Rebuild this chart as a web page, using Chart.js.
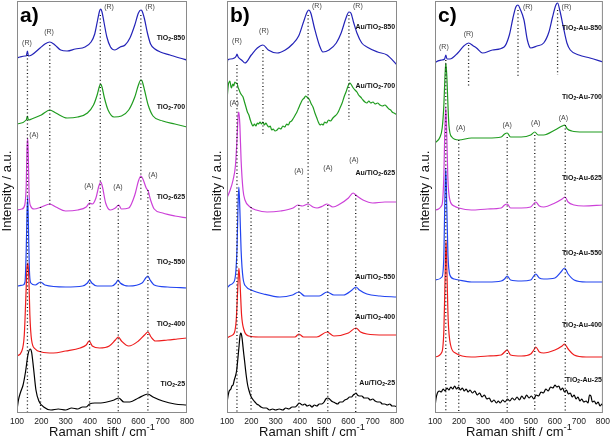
<!DOCTYPE html>
<html>
<head>
<meta charset="utf-8">
<script src="https://cdn.jsdelivr.net/npm/chart.js@4.4.1/dist/chart.umd.min.js"></script>
<style>
  body { margin: 0; background: #fff; }
  #wrap { position: relative; width: 614px; height: 440px; overflow: hidden; }
  canvas { position: absolute; top: 0; }
</style>
</head>
<body>
<div id="wrap">
  <canvas id="panelA" width="200" height="440" style="left:0px"></canvas>
  <canvas id="panelB" width="210" height="440" style="left:200px"></canvas>
  <canvas id="panelC" width="204" height="440" style="left:410px"></canvas>
</div>
<script>
// ---------------------------------------------------------------------------
// Data: [Raman shift (cm-1), stacked intensity (a.u.)]
// ---------------------------------------------------------------------------

// panel a) TiO2
const a850 = [[100,355],[112,356],[133,357],[138,357],[143,362],[147,357],[160,358],[195,365],[215,369],[235,371],[256,368],[280,363],[306,362],[340,364],[380,366],[405,371],[420,379],[432,393],[440,402],[445,404],[450,401],[458,391],[470,376],[485,366],[503,363],[525,366],[545,368],[565,375],[585,388],[600,400],[610,403],[615,402],[625,394],[637,380],[650,369],[668,364],[690,361],[730,358],[770,355],[800,353]];
const a700 = [[100,289],[138,293],[143,297],[147,293],[160,294],[200,298],[235,303],[260,300],[306,295],[350,296],[390,300],[415,308],[430,318],[440,327],[445,329],[450,326],[460,315],[475,303],[500,296],[530,297],[560,303],[585,316],[600,328],[610,333],[615,332],[625,323],[640,308],[660,297],[700,292],[750,289],[800,286]];
const a625 = [[100,203],[120,204],[132,208],[138,228],[141,263],[144,275],[147,253],[150,218],[156,207],[170,204],[200,206],[235,209],[260,206],[300,202],[350,203],[385,206],[399,210],[410,209],[425,215],[437,227],[445,231],[452,226],[465,210],[485,203],[505,205],[519,208],[530,204],[560,205],[585,218],[600,232],[610,237],[620,233],[632,225],[640,222],[650,213],[665,204],[700,200],[750,197],[800,195]];
const a550 = [[100,127],[125,128],[133,131],[138,163],[141,198],[144,216],[147,188],[151,143],[157,130],[175,128],[197,131],[215,128],[300,126],[370,127],[390,130],[399,133],[408,130],[430,127],[490,127],[508,130],[516,133],[525,130],[560,127],[615,130],[630,135],[639,137],[648,133],[665,128],[720,126],[800,125]];
const a400 = [[100,57],[118,61],[130,78],[136,113],[141,145],[145,150],[149,133],[153,98],[160,73],[175,64],[200,61],[250,60],[300,62],[360,65],[385,68],[397,72],[410,67],[440,65],[480,67],[505,73],[517,76],[530,72],[560,67],[600,72],[625,78],[639,81],[652,76],[670,72],[720,73],[760,74],[800,75]];
const a25 = [[100,3],[106,13],[115,21],[125,28],[135,41],[145,58],[154,64],[160,61],[168,45],[178,23],[190,12],[210,6],[240,3],[270,4],[300,3],[325,5],[350,4],[370,6],[385,6],[399,9],[420,10],[445,10],[470,11],[500,13],[519,15],[540,11],[565,11],[600,15],[625,18],[639,19],[660,16],[700,12],[750,9],[800,8]];

// panel b) Au/TiO2
const b850 = [[100,343],[103,353],[115,354],[130,355],[138,357],[141,359],[146,356],[160,353],[174,350],[200,358],[225,365],[248,368],[270,363],[306,360],[340,363],[370,369],[395,377],[415,391],[430,401],[437,403],[445,400],[460,385],[480,368],[495,361],[520,363],[550,370],[570,380],[590,395],[602,401],[610,400],[622,390],[635,380],[655,370],[676,366],[720,361],[759,358],[800,348]];
const b700 = [[100,313],[103,322],[106,329],[109,331],[112,332],[115,328],[118,325],[121,327],[124,329],[128,327],[132,331],[136,330],[141,330],[145,326],[150,323],[155,320],[160,318],[166,316],[172,311],[178,306],[184,301],[190,298],[196,293],[202,289],[207,287],[213,289],[219,287],[225,290],[230,289],[236,291],[242,289],[248,291],[254,288],[260,290],[265,288],[272,286],[278,287],[284,283],[290,284],[298,282],[306,283],[314,285],[322,284],[330,287],[338,286],[346,289],[352,288],[359,291],[366,292],[374,295],[381,298],[388,301],[395,305],[402,309],[410,313],[418,315],[424,317],[429,316],[434,315],[440,313],[447,309],[454,306],[462,300],[470,295],[476,291],[483,288],[490,289],[496,288],[502,291],[510,290],[518,293],[526,292],[536,295],[545,297],[553,299],[560,302],[567,306],[574,310],[582,316],[590,321],[597,326],[602,329],[606,330],[610,329],[615,327],[620,325],[627,323],[635,321],[642,318],[650,316],[660,313],[668,311],[676,310],[684,312],[692,310],[701,311],[710,309],[720,310],[730,308],[740,307],[750,308],[759,306],[767,304],[774,303],[780,301],[788,300],[795,299],[800,298]];
const b625 = [[100,215],[110,221],[125,233],[135,248],[141,273],[146,298],[149,301],[153,288],[158,253],[166,223],[174,213],[195,206],[220,203],[265,201],[320,202],[372,205],[392,208],[410,207],[434,209],[454,206],[471,205],[495,207],[512,209],[536,206],[565,209],[600,215],[619,220],[635,217],[660,213],[700,210],[750,211],[800,211]];
const b550 = [[100,125],[112,128],[125,130],[135,138],[141,163],[146,213],[149,226],[153,203],[158,163],[166,135],[180,126],[200,123],[250,119],[318,116],[370,118],[396,121],[420,117],[480,117],[512,121],[540,118],[580,118],[615,123],[631,126],[645,123],[676,119],[730,117],[800,116]];
const b400 = [[100,75],[115,77],[130,80],[138,93],[144,123],[149,145],[154,128],[160,98],[170,83],[190,77],[230,76],[300,76],[380,76],[396,79],[415,76],[470,76],[512,81],[540,77],[600,80],[631,85],[650,81],[676,79],[750,78],[800,78]];
const b25 = [[100,10],[103,15],[106,19],[109,22],[112,23],[116,24],[120,27],[125,28],[130,33],[135,37],[140,43],[145,55],[150,68],[153,76],[156,80],[159,79],[162,75],[166,66],[169,59],[172,53],[176,44],[180,36],[185,28],[190,23],[195,19],[200,16],[208,13],[215,11],[222,9],[230,8],[240,6],[250,5],[262,5],[275,3],[288,4],[300,3],[315,4],[330,3],[342,5],[355,4],[368,6],[380,6],[390,8],[397,10],[404,9],[412,8],[420,9],[430,7],[440,8],[450,6],[460,8],[470,7],[480,9],[490,9],[500,11],[507,14],[515,15],[522,14],[530,12],[538,11],[546,10],[555,9],[565,11],[575,11],[585,13],[595,14],[605,16],[613,16],[620,18],[626,19],[631,20],[637,18],[645,17],[655,17],[665,15],[680,15],[690,13],[700,14],[710,12],[720,11],[730,11],[740,9],[750,9],[760,8],[770,9],[780,7],[790,7],[800,6]];

// panel c) TiO2-Au
const c850 = [[100,350],[104,351],[129,353],[140,354],[145,358],[150,354],[162,354],[195,360],[220,367],[240,370],[260,367],[273,365],[298,360],[340,363],[388,366],[410,378],[425,395],[437,406],[446,408],[455,404],[471,393],[485,373],[499,365],[525,367],[553,370],[575,381],[590,396],[604,408],[611,410],[620,403],[635,386],[650,370],[664,363],[700,358],[746,355],[800,351]];
const c700 = [[100,270],[121,276],[130,285],[137,308],[141,333],[145,350],[149,338],[154,308],[158,288],[170,276],[199,273],[252,275],[320,275],[376,276],[390,279],[401,280],[415,276],[460,276],[499,278],[516,281],[530,278],[553,278],[600,283],[630,287],[640,288],[652,284],[670,282],[718,281],[800,281]];
const c625 = [[100,203],[129,208],[137,238],[141,283],[145,306],[149,278],[154,233],[162,213],[180,207],[199,205],[252,203],[320,204],[376,205],[390,208],[401,209],[415,205],[460,205],[499,206],[520,211],[535,207],[553,206],[600,210],[630,214],[642,216],[655,211],[680,208],[720,207],[800,208]];
const c550 = [[100,133],[129,136],[137,158],[141,213],[145,245],[149,208],[154,158],[162,138],[180,134],[199,133],[252,131],[320,131],[376,132],[390,134],[401,137],[415,133],[460,132],[499,133],[520,139],[535,135],[553,134],[600,135],[625,141],[640,145],[655,139],[680,133],[730,131],[800,131]];
const c400 = [[100,56],[129,61],[137,83],[141,123],[146,173],[150,138],[155,93],[165,68],[185,60],[252,56],[320,57],[376,58],[390,61],[401,63],[415,58],[460,57],[499,59],[512,63],[520,66],[535,61],[553,60],[600,63],[630,67],[640,69],[655,64],[680,58],[730,56],[800,56]];
const c25 = [[100,6],[104,14],[110,20],[118,22],[126,21],[134,24],[142,22],[150,25],[158,23],[166,26],[174,24],[182,27],[190,24],[198,26],[206,23],[214,25],[222,22],[230,24],[238,21],[246,23],[256,20],[266,22],[276,18],[286,20],[296,16],[306,18],[316,14],[326,15],[336,11],[346,13],[356,10],[364,12],[372,10],[382,13],[392,11],[402,14],[412,12],[422,15],[432,13],[442,16],[452,13],[462,17],[472,14],[482,18],[492,15],[502,17],[512,14],[522,18],[532,17],[542,21],[552,20],[562,24],[572,22],[582,26],[592,25],[600,28],[608,26],[616,27],[624,23],[632,25],[640,21],[648,23],[656,19],[664,20],[672,16],[680,18],[688,14],[696,16],[704,12],[712,14],[720,11],[730,12],[738,10],[744,18],[750,17],[756,11],[764,12],[772,9],[780,11],[788,7],[796,9],[800,7]];

// dotted peak markers: [shift, top, bottom]
const aMarks = [[143,358,0],[235,368,208],[443,398,203],[610,398,213],[197,206,0],[399,213,0],[517,208,0],[639,223,0]];
const bMarks = [[141,348,0],[248,363,278],[434,398,203],[602,398,293],[199,206,0],[396,208,0],[515,208,0],[630,218,0]];
const cMarks = [[145,353,0],[240,368,326],[446,403,335],[611,403,338],[199,273,0],[401,276,0],[516,278,0],[643,288,0]];

// sample names: [text, shift, intensity]  (_{..} = subscript)
const aNames = [['TiO_{2}-850',792,375],['TiO_{2}-700',792,306],['TiO_{2}-625',792,216],['TiO_{2}-550',792,151],['TiO_{2}-400',792,89],['TiO_{2}-25',792,29]];
const bNames = [['Au/TiO_{2}-850',792,386],['Au/TiO_{2}-700',792,327],['Au/TiO_{2}-625',792,240],['Au/TiO_{2}-550',792,136],['Au/TiO_{2}-400',792,96],['Au/TiO_{2}-25',792,30]];
const cNames = [['TiO_{2}-Au-850',796,385],['TiO_{2}-Au-700',796,316],['TiO_{2}-Au-625',796,235],['TiO_{2}-Au-550',796,160],['TiO_{2}-Au-400',796,88],['TiO_{2}-Au-25',796,33]];

// phase labels: [text, shift, intensity]
const aPhase = [['(R)',141,370],['(R)',232,381],['(R)',479,406],['(R)',648,406],['(A)',170,278],['(A)',396,227],['(A)',516,226],['(A)',660,238]];
const bPhase = [['(R)',141,372],['(R)',252,382],['(R)',470,407],['(R)',639,407],['(A)',129,310],['(A)',396,242],['(A)',516,245],['(A)',623,253]];
const cPhase = [['(R)',137,366],['(R)',240,379],['(R)',487,406],['(R)',648,406],['(A)',207,285],['(A)',401,288],['(A)',520,290],['(A)',635,295]];

const xTicks = [100, 200, 300, 400, 500, 600, 700, 800];

// colours per calcination temperature
const traceColors = {
    '850': '#2323b8',
    '700': '#1f9c1f',
    '625': '#cc40d8',
    '550': '#2244f0',
    '400': '#ee1c1c',
    '25': '#000000'
};

const FONT = 'Arial, "Liberation Sans", Helvetica, sans-serif';

// ---------------------------------------------------------------------------
// Text helpers
// ---------------------------------------------------------------------------
function splitRich(text) {
    const out = [];
    const re = /([_^])\{([^}]*)\}/g;
    let last = 0, m;
    while ((m = re.exec(text))) {
        if (m.index > last) out.push({ t: text.slice(last, m.index), mode: '' });
        out.push({ t: m[2], mode: m[1] });
        last = re.lastIndex;
    }
    if (last < text.length) out.push({ t: text.slice(last), mode: '' });
    return out;
}

function drawRich(ctx, text, x, y, size, weight, align) {
    const segs = splitRich(text);
    const fontFor = s => `${weight} ${s.mode ? size * 0.72 : size}px ${FONT}`;
    let total = 0;
    segs.forEach(s => {
        ctx.font = fontFor(s);
        s.w = ctx.measureText(s.t).width;
        total += s.w;
    });
    let cx = align === 'right' ? x - total : align === 'center' ? x - total / 2 : x;
    ctx.textAlign = 'left';
    ctx.textBaseline = 'middle';
    segs.forEach(s => {
        ctx.font = fontFor(s);
        const dy = s.mode === '_' ? size * 0.3 : s.mode === '^' ? -size * 0.38 : 0;
        ctx.fillText(s.t, cx, y + dy);
        cx += s.w;
    });
}

// frame, panel letter, axis titles and labels
const panelDecor = {
    id: 'panelDecor',
    afterDraw(chart, args, opts) {
        const ctx = chart.ctx;
        const area = chart.chartArea;
        const xs = chart.scales.x;
        const ys = chart.scales.y;
        ctx.save();

        ctx.strokeStyle = '#8a8a8a';
        ctx.lineWidth = 1;
        ctx.strokeRect(area.left + 0.5, area.top + 0.5, area.right - area.left - 1, area.bottom - area.top - 1);

        ctx.fillStyle = '#000';
        drawRich(ctx, opts.letter, area.left + 3, area.top + 15, 21, 'bold', 'left');

        ctx.fillStyle = '#111';
        opts.names.forEach(([t, x, y]) => {
            drawRich(ctx, t, xs.getPixelForValue(x), ys.getPixelForValue(y), 7, 'bold', 'right');
        });

        ctx.fillStyle = '#444';
        opts.phases.forEach(([t, x, y]) => {
            drawRich(ctx, t, xs.getPixelForValue(x), ys.getPixelForValue(y), 7, 'normal', 'center');
        });

        ctx.fillStyle = '#111';
        drawRich(ctx, 'Raman shift / cm^{-1}', (area.left + area.right) / 2, 432, 13, 'normal', 'center');

        ctx.translate(area.left - 10, area.top + 190);
        ctx.rotate(-Math.PI / 2);
        drawRich(ctx, 'Intensity / a.u.', 0, 0, 13, 'normal', 'center');
        ctx.restore();
    }
};

// ---------------------------------------------------------------------------
// Chart building
// ---------------------------------------------------------------------------
function createPanel(canvasId, traces, marks, names, phases, letter, pad) {
    const ctx = document.getElementById(canvasId);

    const markerSets = marks.map(([x, top, bottom]) => ({
        data: [[x, top], [x, bottom]],
        borderColor: '#111',
        borderWidth: 1.3,
        borderDash: [1, 2.6],
        pointRadius: 0,
        tension: 0
    }));

    const traceSets = traces.map(([key, data]) => ({
        data: data,
        borderColor: traceColors[key],
        borderWidth: 1.2,
        pointRadius: 0,
        cubicInterpolationMode: 'monotone'
    }));

    return new Chart(ctx, {
        type: 'line',
        data: { datasets: markerSets.concat(traceSets) },
        options: {
            responsive: false,
            animation: false,
            events: [],
            layout: { padding: { left: pad.left, right: pad.right, top: 1, bottom: 0 } },
            plugins: {
                legend: { display: false },
                tooltip: { enabled: false },
                panelDecor: { letter: letter, names: names, phases: phases }
            },
            scales: {
                x: {
                    type: 'linear',
                    min: 100,
                    max: 800,
                    afterBuildTicks: scale => { scale.ticks = xTicks.map(v => ({ value: v })); },
                    afterFit: scale => { scale.height = 27; },
                    grid: { display: false, drawTicks: false },
                    border: { display: false },
                    ticks: {
                        color: '#222',
                        padding: 4,
                        maxRotation: 0,
                        font: { family: FONT, size: 8.5 }
                    }
                },
                y: {
                    type: 'linear',
                    min: 0,
                    max: 412,
                    display: false
                }
            }
        },
        plugins: [panelDecor]
    });
}

createPanel('panelA',
    [['25', a25], ['400', a400], ['550', a550], ['625', a625], ['700', a700], ['850', a850]],
    aMarks, aNames, aPhase, 'a)', { left: 17, right: 13 });

createPanel('panelB',
    [['25', b25], ['400', b400], ['550', b550], ['625', b625], ['700', b700], ['850', b850]],
    bMarks, bNames, bPhase, 'b)', { left: 27, right: 13 });

createPanel('panelC',
    [['25', c25], ['400', c400], ['550', c550], ['625', c625], ['700', c700], ['850', c850]],
    cMarks, cNames, cPhase, 'c)', { left: 25, right: 8 });
</script>
</body>
</html>
